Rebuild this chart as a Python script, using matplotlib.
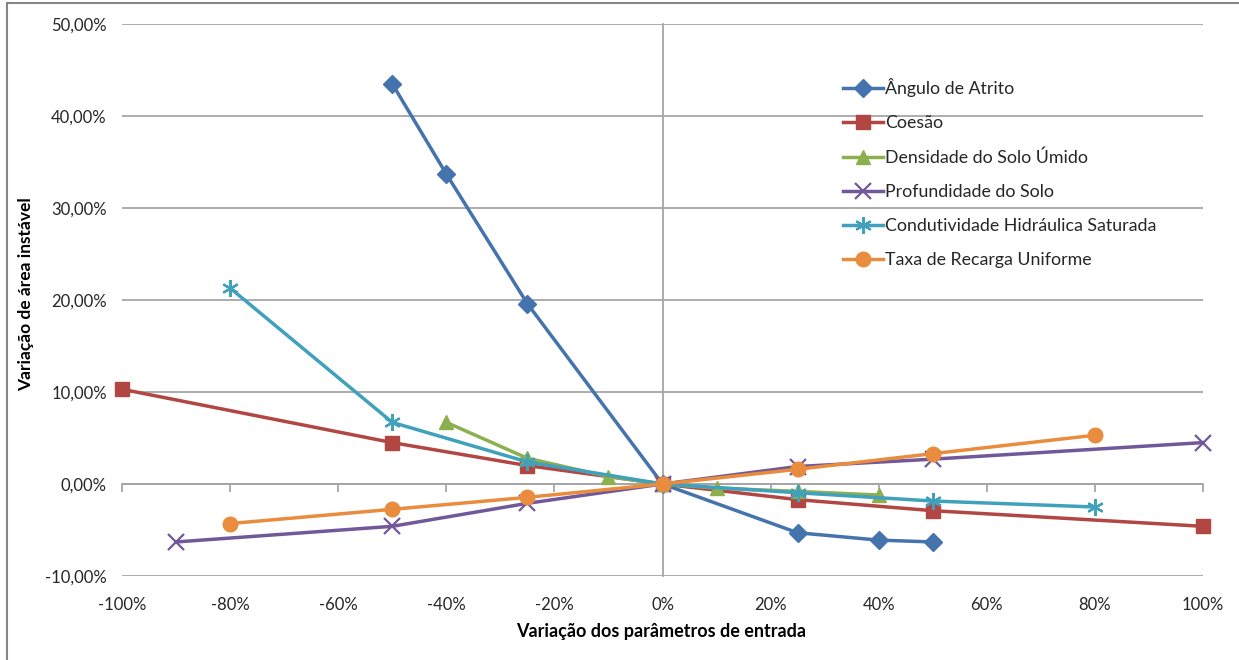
import matplotlib
matplotlib.use("Agg")
import matplotlib.pyplot as plt
from matplotlib.patches import Rectangle
from matplotlib.ticker import FixedLocator, FuncFormatter

plt.rcParams['font.family'] = ['Lato', 'DejaVu Sans']

# Sensitivity data: parameter variation (%) vs change in unstable area (%)
x_atrito = [-50, -40, -25, 0, 25, 40, 50]
y_atrito = [43.5, 33.7, 19.6, 0.0, -5.3, -6.1, -6.3]

x_coesao = [-100, -50, -25, 0, 25, 50, 100]
y_coesao = [10.3, 4.5, 2.0, 0.0, -1.7, -2.9, -4.6]

x_densidade = [-40, -25, -10, 0, 10, 25, 40]
y_densidade = [6.7, 2.8, 0.8, 0.0, -0.45, -0.8, -1.2]

x_profundidade = [-90, -50, -25, 0, 25, 50, 100]
y_profundidade = [-6.3, -4.6, -2.1, 0.0, 1.9, 2.7, 4.5]

x_condutividade = [-80, -50, -25, 0, 25, 50, 80]
y_condutividade = [21.3, 6.7, 2.4, 0.0, -0.95, -1.85, -2.5]

x_recarga = [-80, -50, -25, 0, 25, 50, 80]
y_recarga = [-4.3, -2.75, -1.45, 0.0, 1.6, 3.3, 5.3]

x_ticks = [-100, -80, -60, -40, -20, 0, 20, 40, 60, 80, 100]
y_ticks = [-10, 0, 10, 20, 30, 40, 50]

series = [
    ("Ângulo de Atrito", x_atrito, y_atrito, "#4573AD", "D", 9),
    ("Coesão", x_coesao, y_coesao, "#B14643", "s", 9.5),
    ("Densidade do Solo Úmido", x_densidade, y_densidade, "#8DAF4E", "^", 10.5),
    ("Profundidade do Solo", x_profundidade, y_profundidade, "#71589A", "x", 11),
    ("Condutividade Hidráulica Saturada", x_condutividade, y_condutividade, "#3FA1BB", (6, 2, 0), 12),
    ("Taxa de Recarga Uniforme", x_recarga, y_recarga, "#E98C3D", "o", 10.5),
]

fig = plt.figure(figsize=(12.39, 6.6), dpi=100)
ax = fig.add_axes([122 / 1239, 1 - 576 / 660, (1203 - 122) / 1239, (576 - 24) / 660])

grid_color = "#A6A6A6"
text_color = "#262626"

for label, xs, ys, color, marker, ms in series:
    mew = 1.6 if marker in ("x", (6, 2, 0)) else 1.0
    ax.plot(xs, ys, color=color, lw=2.5, marker=marker, ms=ms,
            markerfacecolor=color, markeredgecolor=color, markeredgewidth=mew,
            label=label, zorder=3, clip_on=False)

ax.set_xlim(x_ticks[0], x_ticks[-1])
ax.set_ylim(y_ticks[0], y_ticks[-1])
ax.xaxis.set_major_locator(FixedLocator(x_ticks))
ax.yaxis.set_major_locator(FixedLocator(y_ticks))
ax.grid(axis='y', color=grid_color, lw=1.3)
ax.set_axisbelow(True)

# Axes lines cross at the origin
ax.spines['left'].set_position(('data', 0))
ax.spines['bottom'].set_position(('data', 0))
for s in ('right', 'top'):
    ax.spines[s].set_visible(False)
for s in ('left', 'bottom'):
    ax.spines[s].set_color(grid_color)
    ax.spines[s].set_linewidth(1.3)
ax.tick_params(axis='x', direction='out', length=6, width=1.3, color=grid_color,
               labelbottom=False)
ax.tick_params(axis='y', length=0, labelleft=False)

# Tick labels placed at the low side of the plot area
sx = ax.secondary_xaxis(0.0)
sx.xaxis.set_major_locator(FixedLocator(x_ticks))
sx.xaxis.set_major_formatter(FuncFormatter(lambda v, p: f"{v:.0f}%"))
sx.tick_params(length=0, pad=15, labelsize=12, labelcolor=text_color)
sx.spines['bottom'].set_visible(False)

sy = ax.secondary_yaxis(0.0)
sy.yaxis.set_major_locator(FixedLocator(y_ticks))
sy.yaxis.set_major_formatter(FuncFormatter(lambda v, p: f"{v:.2f}%".replace('.', ',')))
sy.tick_params(length=0, pad=11, labelsize=12, labelcolor=text_color)
sy.spines['left'].set_visible(False)

fig.text(661 / 1239, 1 - 631 / 660, "Variação dos parâmetros de entrada",
         ha='center', va='center', fontsize=13, fontweight='bold', color='black')
fig.text(26 / 1239, 1 - 294 / 660, "Variação de área instável", rotation=90,
         ha='center', va='center', fontsize=12.5, fontweight='bold', color='black')

leg = ax.legend(loc='upper left', bbox_to_anchor=(831 / 1239, 1 - 66 / 660),
                bbox_transform=fig.transFigure, frameon=False, fontsize=12.8,
                handlelength=2.2, handletextpad=0.12, labelspacing=1.01,
                labelcolor=text_color, borderpad=0.2)

# Chart border
fig.patches.append(Rectangle((7 / 1239, -0.05), 1.1, 1.05 - 3 / 660,
                             transform=fig.transFigure, fill=False,
                             edgecolor='#868686', lw=1.5))

fig.savefig("out.png", dpi=100)
